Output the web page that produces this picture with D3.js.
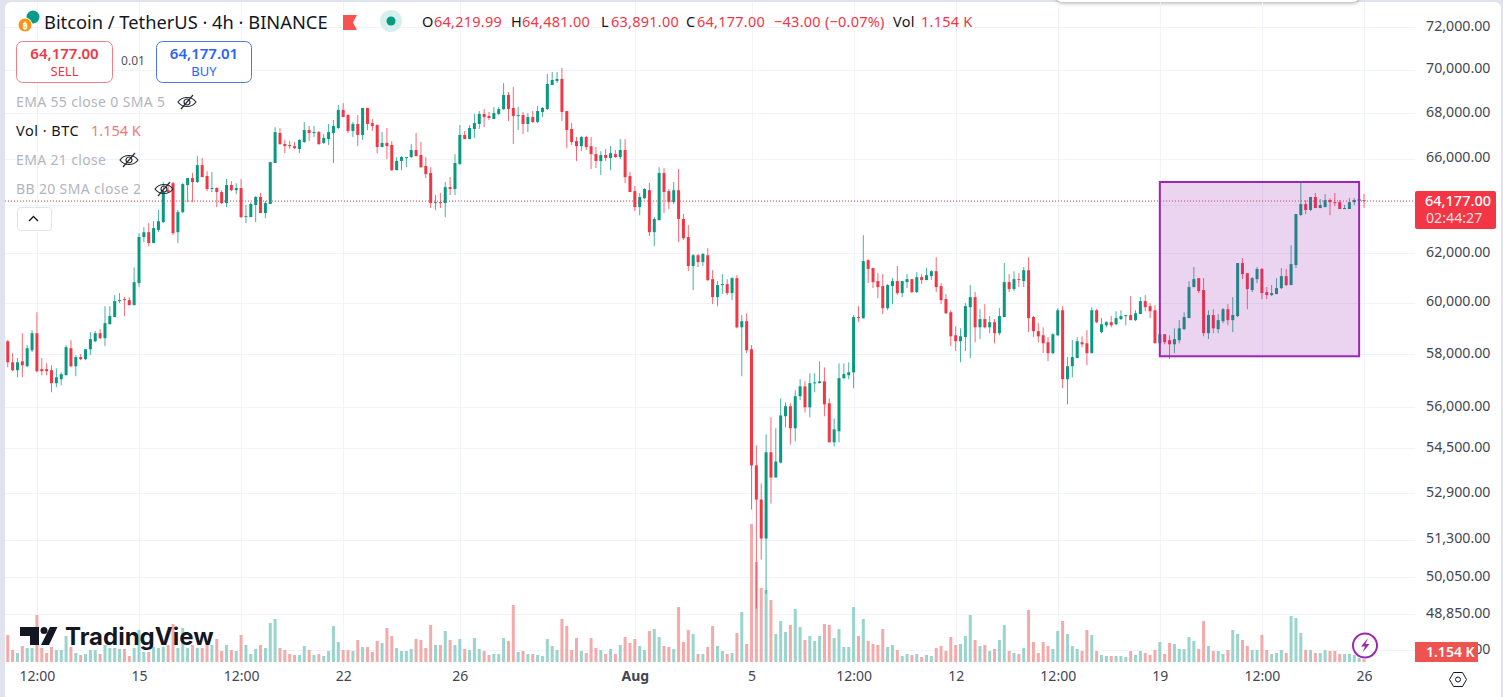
<!DOCTYPE html>
<html>
<head>
<meta charset="utf-8">
<title>BTCUSDT 4h</title>
<script src="https://cdn.jsdelivr.net/npm/d3@7"></script>
<style>
html, body { margin: 0; padding: 0; background: #e0e3eb; overflow: hidden; }
text { font-family: "Noto Sans", sans-serif; }
</style>
</head>
<body>
<script>
// bars are 4h apart, first one is 10 Jul 2024 12:00
var firstBar = new Date(Date.UTC(2024, 6, 10, 12));

var opens = [
58500,57690,57390,57730,57540,58150,58810,57430,57430,57390,
56900,57050,57200,58230,57540,57890,57810,58190,58500,58810,
58620,59160,59440,60070,60150,60110,59910,60790,62670,62870,
62420,62960,63290,64640,64940,62870,63710,64860,65160,64990,
65720,65250,64690,64730,64560,64090,64860,64640,64730,63500,
63500,64010,64350,63670,64050,65810,67130,66640,66600,66550,
66420,66730,67260,67130,67170,66690,66860,67130,67350,68160,
67930,67220,67530,67040,68250,67570,67480,66510,66690,66600,
65500,65900,66030,66070,66380,66160,65680,65380,64090,64130,
64090,64770,64690,65770,67040,66860,67310,67530,67980,67890,
67750,67980,68200,68840,68250,67890,67930,67530,67840,67620,
68070,68200,69290,69480,69570,68110,67310,66770,66550,66950,
66550,66200,65900,66160,66030,66200,66070,66380,65250,64600,
63920,64300,64640,62870,63370,65380,64600,64130,64640,63420,
62670,61480,61920,61640,61920,60950,60230,60710,60750,60390,
60990,59040,59280,58190,53890,52690,51350,54360,53460,53990,
55670,56040,55230,56410,56780,56000,56900,56900,56970,56150,
54720,55120,57090,57200,57310,59440,59400,61720,61400,60870,
60670,59790,60670,60870,60390,60830,60950,60430,61030,60910,
61070,61270,60670,60150,59630,58730,58500,58660,59830,60230,
59040,59360,59040,59240,58810,59440,60830,60550,60950,60870,
61310,59440,58890,58730,58460,58040,58730,59710,57050,57540,
57850,58460,58420,58040,59710,58850,59120,59240,59160,59360,
59480,59520,59320,59560,60070,59870,59710,58420,58770,58540,
58380,58540,58970,59400,60630,60990,60510,58810,59520,58970,
59280,59750,59320,59480,61600,61190,60510,60950,61360,60430,
60310,60350,60590,61070,60710,61520,63590,64050,63800,64350,
63880,63920,64220,64130,64130,63840,63840,64130,64180,64219.99];

var highs = [
58540,58040,57850,58810,58350,58930,59630,57850,57650,57580,
57460,57310,58350,58540,57960,58000,58190,58850,58890,58970,
59870,59870,60310,60390,60230,60230,61430,62830,63080,63250,
63330,63800,64990,64860,64990,63800,64940,65160,65380,66110,
66030,65460,65420,64770,64640,65120,65030,64940,65120,64010,
64130,64390,64520,64180,65850,67390,67350,66820,66770,66730,
66860,67620,67440,67440,67220,67080,67530,67710,68380,68470,
67980,67620,67930,68250,68250,67750,67530,67170,67350,66770,
66070,66110,66070,66640,67130,66730,66070,65630,64430,64520,
64990,65200,66200,67480,67220,67480,67980,68110,68200,68070,
68290,68290,69380,68970,69200,68290,68070,68020,68110,68340,
68290,69800,69890,69890,70080,68110,67570,66950,66990,66990,
66950,66510,66330,66420,66550,66380,66860,66860,65420,64810,
64520,64730,64940,63500,65630,65590,64690,64990,65550,63630,
63170,61970,61970,62010,62210,61310,60870,61150,60950,61030,
61110,59520,59590,58350,54610,53250,55010,55630,55230,56330,
56180,56150,56630,57050,56970,57270,57270,57730,57500,56330,
55590,57650,57650,57690,59520,59870,62750,61760,61400,61190,
61150,60750,60990,61480,60870,61150,60950,61230,61150,61400,
61310,61840,60790,60350,59710,59080,59000,59990,60710,60430,
59750,59950,59480,59360,59790,61600,61150,61270,61190,61440,
61840,59480,59200,59040,58660,58810,59790,59870,57890,58540,
58660,58690,58930,59830,59750,59400,59280,59480,59670,59710,
59520,60270,59710,60230,60310,59990,59910,58770,58770,58730,
59000,59320,59630,60870,61440,60990,60990,59710,59750,59560,
59790,59950,60230,61600,61800,61190,61030,61440,61400,60630,
60710,60990,61400,61360,62330,63630,64990,64220,64350,64520,
64260,64470,64300,64520,64220,64010,64300,64300,64990,64481];

var lows = [
57500,57350,57120,57120,57500,58080,57310,57200,57200,56560,
56750,56820,57200,57500,57160,57770,57770,57960,58460,58580,
58310,59160,59440,59990,59480,59910,59910,60630,62460,62290,
62420,62870,63250,64520,62750,62420,63670,64130,64130,64940,
65200,64600,64560,63920,64050,63920,64600,64470,63460,63250,
63500,63290,63670,63460,64050,65810,66600,66240,66420,66420,
66240,66690,66770,66950,66600,66640,66600,65810,67310,67840,
67130,66950,66550,66820,67260,67220,66240,66510,65980,65460,
65500,65500,65630,66030,66110,65590,65160,63880,63800,63880,
63500,64430,64430,65720,66860,66860,66910,67310,67400,67710,
67750,67930,68160,67660,66640,67260,67080,67170,67570,67570,
67840,68160,69290,69380,67660,66460,66600,65900,66330,66380,
65550,65590,65290,65900,65500,66030,65980,64940,64560,63750,
63580,64260,62710,62290,63370,63670,63840,64050,62460,62540,
61270,60510,61440,61480,60870,59950,59870,60350,60310,60110,
59000,57160,58040,52340,49020,50640,49510,52550,53460,53960,
55260,54640,54750,56260,55810,55630,56560,56900,55670,54720,
54570,54720,57050,57050,56710,59240,59360,60790,60590,60190,
59560,59710,59950,60310,60230,60590,60390,60390,60750,60910,
60910,60430,59950,59560,58310,58120,57690,58120,57850,58460,
58580,59000,58810,58420,58730,59440,60430,60470,60630,60630,
58850,58660,58460,58040,57730,58000,58690,56710,56110,57120,
57850,58270,57580,58040,59200,58810,59040,59040,59120,59320,
59120,59320,59280,59560,59670,59400,58420,58270,58380,57810,
58040,58420,58930,59400,60630,60390,58690,58580,58810,58810,
59200,59120,58850,59440,60950,59750,60430,60790,60150,60150,
60270,60350,60550,60670,60710,61400,63540,63630,63750,63880,
63880,63920,63580,63960,63840,63840,63840,64010,64090,63891];

var closes = [
57690,57390,57690,57580,58230,58810,57350,57350,57350,56900,
57120,57240,58270,57540,57890,57810,58190,58580,58810,58620,
59200,59480,60070,60110,60110,59910,60830,62670,62870,62420,
63040,63330,64560,64560,62830,63710,64900,65160,64990,65720,
65200,64690,64730,64560,64090,64860,64640,64730,63500,63540,
64050,64350,63670,64090,65850,67170,66640,66550,66550,66460,
66820,67260,67130,67170,66640,66910,67170,67440,68160,67840,
67220,67530,67040,68250,67530,67440,66510,66690,66550,65500,
65900,66070,66070,66380,66110,65630,65330,64090,64130,64090,
64770,64690,65810,67040,66860,67350,67570,67980,67840,67800,
68020,68200,68840,68200,67890,67930,67530,67840,67620,68110,
68250,69340,69520,69570,68070,67260,66730,66550,66950,66510,
66200,65900,66160,66030,66240,66070,66380,65200,64560,63920,
64350,64690,62870,63420,65380,64560,64130,64640,63420,62620,
61480,61920,61640,61970,60910,60230,60710,60750,60390,60990,
59040,59280,58150,53890,52690,51350,54360,53460,54030,55700,
56040,55230,56410,56780,56000,56900,56930,56970,56110,54720,
55190,57090,57240,57310,59440,59400,61680,61360,60830,60630,
59790,60710,60870,60390,60870,60950,60430,61030,60910,61110,
61270,60630,60110,59590,58690,58500,58690,59870,60230,59040,
59360,59040,59240,58810,59480,60830,60550,60950,60910,61310,
59400,58890,58690,58420,58040,58770,59710,57050,57540,57890,
58500,58380,58040,59710,59240,59160,59240,59120,59400,59480,
59520,59320,59590,60070,59830,59670,58420,58770,58460,58380,
58580,59000,59440,60630,60950,60470,58810,59520,59000,59320,
59750,59320,59520,61600,61150,60550,60990,61360,60390,60310,
60390,60590,61070,60710,61560,63630,64050,63800,64350,63880,
64010,64220,64130,64090,63840,63880,64130,64220,64260,64177];

// volume in thousands of BTC
var volumes = [
10.8,4.8,3.6,6.4,5.6,5.6,18.8,5.6,3.6,6.0,4.8,4.8,10.4,6.0,3.6,2.8,3.2,4.8,4.8,3.2,
6.8,5.6,5.6,5.2,5.2,2.4,5.6,12.8,4.0,4.0,6.0,5.6,6.0,6.8,15.2,5.6,13.6,5.6,6.8,5.6,
5.6,6.8,6.8,9.2,4.4,6.8,4.8,4.4,10.8,6.8,3.2,5.2,6.8,5.6,15.6,17.2,5.6,4.8,3.2,2.8,
2.8,6.4,4.8,2.8,3.2,2.4,4.4,14.4,8.0,4.8,4.8,4.4,8.8,6.0,6.0,4.0,8.4,7.6,13.6,10.4,
5.6,4.4,4.4,5.2,9.2,8.8,5.6,14.8,6.8,6.8,12.4,8.8,6.8,9.2,5.2,4.8,9.6,5.2,4.4,2.8,
3.2,3.2,
9.6,8.4,22.8,4.0,4.4,3.2,3.2,2.8,2.4,9.2,
6.4,4.8,17.2,14.4,4.8,9.6,4.4,3.6,9.6,5.6,
4.8,3.2,5.2,3.2,6.8,10.0,7.6,9.2,6.4,4.8,
12.4,13.2,10.0,6.4,6.0,5.2,22.0,8.0,12.8,11.2,
3.2,3.2,6.0,14.4,6.4,4.4,3.2,3.6,11.6,20.0,
7.2,55.2,40.0,29.6,28.8,24.8,11.2,16.4,12.0,14.8,
21.2,14.0,8.8,10.4,8.4,10.4,15.2,14.8,9.6,13.2,
6.0,6.0,22.0,10.4,17.2,8.4,7.2,6.8,13.2,6.0,
6.8,4.8,2.4,3.2,2.8,3.2,2.0,2.8,2.4,5.6,
6.4,4.4,10.0,6.8,7.2,10.4,18.8,8.8,6.4,6.8,
4.4,5.2,8.8,
14.8,4.4,3.6,3.2,5.6,20.8,8.0,3.6,8.0,6.4,
5.2,12.4,16.4,11.2,6.4,5.2,4.4,12.8,10.8,4.4,
2.8,2.4,2.4,2.4,2.4,2.0,4.4,2.8,4.4,3.6,
2.8,4.8,8.0,3.2,7.6,7.2,5.2,5.2,10.0,8.4,
5.2,16.4,6.4,4.4,4.4,3.2,4.8,12.8,11.2,8.8,
6.4,4.8,4.8,10.8,4.8,3.2,3.6,4.8,3.6,18.4,
17.6,11.6,4.8,4.8,3.6,3.6,4.8,4.4,4.4,3.2,
3.2,3.2,2.8,1.6,1.154];

var priceTicks = [72000,70000,68000,66000,64000,62000,60000,58000,56000,54500,52900,51300,50050,48850,47700];
var timeTicks = [[2024,6,11,12],[2024,6,15,0],[2024,6,18,12],[2024,6,22,0],[2024,6,26,0],[2024,7,1,0],[2024,7,5,0],[2024,7,8,12],[2024,7,12,0],[2024,7,15,12],[2024,7,19,0],[2024,7,22,12],[2024,7,26,0]];
var timeLabels = ["12:00","15","12:00","22","26","Aug","5","12:00","12","12:00","19","12:00","26"];

// the purple rectangle: first bar, last bar, top price, bottom price
var boxFrom = new Date(Date.UTC(2024, 7, 19, 0));
var boxTo = new Date(Date.UTC(2024, 7, 25, 20));
var boxPrices = [64990, 57920];

var lastPrice = 64177;
var upColor = "#089981", downColor = "#f23645";
var tickDates = timeTicks.map(function(t){ return new Date(Date.UTC(t[0], t[1], t[2], t[3])); });
var dates = opens.map(function(d,i){ return d3.utcHour.offset(firstBar, 4*i); });
var bars = d3.range(opens.length);

var width = 1503, height = 697;
var svg = d3.select("body").append("svg")
	.attr("width", width)
	.attr("height", height)
	.style("display", "block");

// scales
var x = d3.scaleUtc()
	.domain([new Date(Date.UTC(2024,6,15)), new Date(Date.UTC(2024,7,26))])
	.range([139, 1364]);
var y = d3.scaleLog().domain([48850, 72000]).range([614, 27]);
var yVol = d3.scaleLinear().domain([0, 60]).range([662, 512]);

// panel
var defs = svg.append("defs");
defs.append("filter").attr("id","pillShadow").attr("x","-5%").attr("y","-200%").attr("width","110%").attr("height","500%")
	.append("feDropShadow").attr("dx",0).attr("dy",1).attr("stdDeviation",2).attr("flood-color","#000").attr("flood-opacity",0.35);
svg.append("rect").attr("x",5).attr("y",2).attr("width",1496).attr("height",705).attr("rx",6).attr("fill","#fff");
svg.append("rect").attr("x",1056).attr("y",-12).attr("width",303).attr("height",14).attr("rx",6)
	.attr("fill","#fff").attr("filter","url(#pillShadow)");

// grid
svg.append("g").selectAll("line").data(priceTicks).enter().append("line")
	.attr("x1",5).attr("x2",1415)
	.attr("y1",function(d){ return Math.round(y(d))+0.5; })
	.attr("y2",function(d){ return Math.round(y(d))+0.5; })
	.attr("stroke","#f0f3fa");
svg.append("g").selectAll("line").data(tickDates).enter().append("line")
	.attr("x1",function(d){ return Math.round(x(d))+0.5; })
	.attr("x2",function(d){ return Math.round(x(d))+0.5; })
	.attr("y1",2).attr("y2",666)
	.attr("stroke","#f0f3fa");

function isUp(i){ return closes[i] >= opens[i]; }

// volume
svg.append("g").selectAll("rect").data(bars).enter().append("rect")
	.attr("x",function(i){ return x(dates[i])-1.5; })
	.attr("width",3)
	.attr("y",function(i){ return yVol(volumes[i]); })
	.attr("height",function(i){ return yVol(0)-yVol(volumes[i]); })
	.attr("fill",function(i){ return isUp(i) ? "#9ad4cc" : "#f3aaaa"; });

// candles
var candles = svg.append("g");
candles.selectAll("line").data(bars).enter().append("line")
	.attr("x1",function(i){ return x(dates[i]); })
	.attr("x2",function(i){ return x(dates[i]); })
	.attr("y1",function(i){ return y(highs[i]); })
	.attr("y2",function(i){ return y(lows[i]); })
	.attr("stroke",function(i){ return isUp(i) ? upColor : downColor; })
	.attr("stroke-opacity",0.75);
candles.selectAll("rect").data(bars).enter().append("rect")
	.attr("x",function(i){ return x(dates[i])-1.5; })
	.attr("width",3)
	.attr("y",function(i){ return y(Math.max(opens[i],closes[i])); })
	.attr("height",function(i){ return Math.max(1, Math.abs(y(opens[i])-y(closes[i]))); })
	.attr("fill",function(i){ return isUp(i) ? upColor : downColor; });

// last price line
svg.append("line")
	.attr("x1",5).attr("x2",1415)
	.attr("y1",y(lastPrice)).attr("y2",y(lastPrice))
	.attr("stroke",downColor).attr("stroke-dasharray","1 2");

// rectangle drawing
svg.append("rect")
	.attr("x",x(boxFrom)).attr("y",y(boxPrices[0]))
	.attr("width",x(boxTo)-x(boxFrom))
	.attr("height",y(boxPrices[1])-y(boxPrices[0]))
	.attr("fill","rgba(156,39,176,0.2)")
	.attr("stroke","#9c27b0").attr("stroke-width",2);

// axes, the 64,000 label sits under the last price tag so it stays empty
var priceFormat = d3.format(",.2f");
var yAxis = d3.axisRight(y).tickValues(priceTicks).tickFormat(function(d){ return d==64000 ? "" : priceFormat(d); }).tickSize(0).tickPadding(0);
var gy = svg.append("g").attr("transform","translate(1490.5,-1.5)").call(yAxis);
gy.select(".domain").remove();
gy.selectAll("text").attr("text-anchor","end").attr("font-size",14.2).attr("font-family","'Noto Sans'").attr("fill","#434651");

var xAxis = d3.axisBottom(x).tickValues(tickDates).tickFormat(function(d,i){ return timeLabels[i]; }).tickSize(0).tickPadding(0);
var gx = svg.append("g").attr("transform","translate(0,671)").call(xAxis);
gx.select(".domain").remove();
gx.selectAll("text").attr("font-size",14).attr("font-family","'Noto Sans'").attr("fill","#434651")
	.attr("font-weight",function(d,i){ return timeLabels[i]=="Aug" ? 700 : 400; });

// price tags
svg.append("rect").attr("x",1415).attr("y",191).attr("width",81).attr("height",38).attr("rx",2).attr("fill",downColor);
svg.append("text").attr("x",1491).attr("y",206).attr("text-anchor","end").attr("font-size",14.5).attr("font-weight",500).attr("fill","#fff").text("64,177.00");
svg.append("text").attr("x",1426).attr("y",223).attr("font-size",14.2).attr("fill","#fff").attr("fill-opacity",0.85).text("02:44:27");
svg.append("rect").attr("x",1415).attr("y",642).attr("width",63).attr("height",20).attr("fill","#ef5350");
svg.append("text").attr("x",1426).attr("y",657).attr("font-size",14).attr("font-weight",600).attr("fill","#fff").text("1.154 K");

// header
function label(tx, ty, txt, size, color, weight, anchor){
	return svg.append("text").attr("x",tx).attr("y",ty).attr("font-size",size).attr("fill",color)
		.attr("font-weight",weight||400).attr("text-anchor",anchor||"start").text(txt);
}
svg.append("circle").attr("cx",33).attr("cy",17).attr("r",6.5).attr("fill","#0a9a8c");
svg.append("circle").attr("cx",25).attr("cy",25).attr("r",7).attr("fill","#f7931a").attr("stroke","#fff");
label(25,28.5,"₿",9,"#fff",700,"middle");
label(44,29,"Bitcoin / TetherUS · 4h · BINANCE",18.3,"#131722");
svg.append("path").attr("d","M343 15h14l-4 7.5l4 7.5h-14z").attr("fill","#f7524f");
svg.append("circle").attr("cx",391).attr("cy",21).attr("r",11).attr("fill","#d6efea");
svg.append("circle").attr("cx",391).attr("cy",21).attr("r",4.5).attr("fill",upColor);

var legendParts = [[422,"O","#131722"],[434,"64,219.99",downColor],[511,"H","#131722"],[522,"64,481.00",downColor],[601,"L","#131722"],[611,"63,891.00",downColor],[686,"C","#131722"],[697,"64,177.00",downColor],[774,"−43.00 (−0.07%)",downColor],[893,"Vol","#131722"],[921,"1.154 K",downColor]];
legendParts.forEach(function(p){ label(p[0],27,p[1],14.5,p[2]).style("letter-spacing","0.25px"); });

// sell / buy
svg.append("rect").attr("x",16.5).attr("y",41.5).attr("width",96).attr("height",41).attr("rx",6).attr("fill","#fff").attr("stroke","#ef7f87");
label(64.5,59,"64,177.00",15,downColor,600,"middle");
label(64.5,76,"SELL",13,downColor,400,"middle");
label(133,65,"0.01",12,"#50535e",400,"middle");
svg.append("rect").attr("x",156.5).attr("y",41.5).attr("width",95).attr("height",41).attr("rx",6).attr("fill","#fff").attr("stroke","#4a78e0");
label(204,59,"64,177.01",15,"#2962ff",600,"middle");
label(204,76,"BUY",13,"#2962ff",400,"middle");

// indicator rows
function eye(cx, cy){
	var g = svg.append("g").attr("transform","translate("+cx+","+cy+")").attr("fill","none").attr("stroke","#2a2e39").attr("stroke-width",1.2);
	g.append("path").attr("d","M-9 0C-5 -6 5 -6 9 0C5 6 -5 6 -9 0z");
	g.append("circle").attr("r",3);
	g.append("line").attr("x1",-6).attr("y1",7).attr("x2",6).attr("y2",-7);
}
var faded = "#b2b5be";
label(16,107,"EMA 55 close 0 SMA 5",14,faded).style("letter-spacing","0.35px");
eye(187,102);
label(16,136,"Vol · BTC",14.5,"#131722").style("letter-spacing","0.5px");
label(91,136,"1.154 K",14.5,"#f0797a");
label(16,165,"EMA 21 close",14,faded).style("letter-spacing","0.35px");
eye(129,160);
label(16,194,"BB 20 SMA close 2",14,faded).style("letter-spacing","0.35px");
eye(164,189);
svg.append("rect").attr("x",17.5).attr("y",207.5).attr("width",34).attr("height",23).attr("rx",3).attr("fill","#fff").attr("stroke","#e0e3eb");
svg.append("path").attr("d","M29 221l4.5 -4.5l4.5 4.5").attr("fill","none").attr("stroke","#131722").attr("stroke-width",1.4);

// TradingView mark
svg.append("path").attr("d","M20 627h19v18h-9v-9h-10z").attr("fill","#131722");
svg.append("circle").attr("cx",44).attr("cy",630.5).attr("r",3.5).attr("fill","#131722");
svg.append("path").attr("d","M50 627h7.5l-8.5 18h-8z").attr("fill","#131722");
label(65,645,"TradingView",24,"#131722",700).style("font-family","Inter");

// bolt button and settings icon
svg.append("circle").attr("cx",1365).attr("cy",645.5).attr("r",12).attr("fill","#fff").attr("stroke","#9c27b0").attr("stroke-width",2);
svg.append("path").attr("d","M1368 638l-7 8.5h4l-2.5 6l7 -8.5h-4z").attr("fill","#9c27b0");
svg.append("path").attr("d","M1449.5 679.5l4 -7h9l4 7l-4 7h-9z").attr("fill","none").attr("stroke","#131722");
svg.append("circle").attr("cx",1458).attr("cy",679.5).attr("r",2.5).attr("fill","none").attr("stroke","#131722");
</script>
</body>
</html>
